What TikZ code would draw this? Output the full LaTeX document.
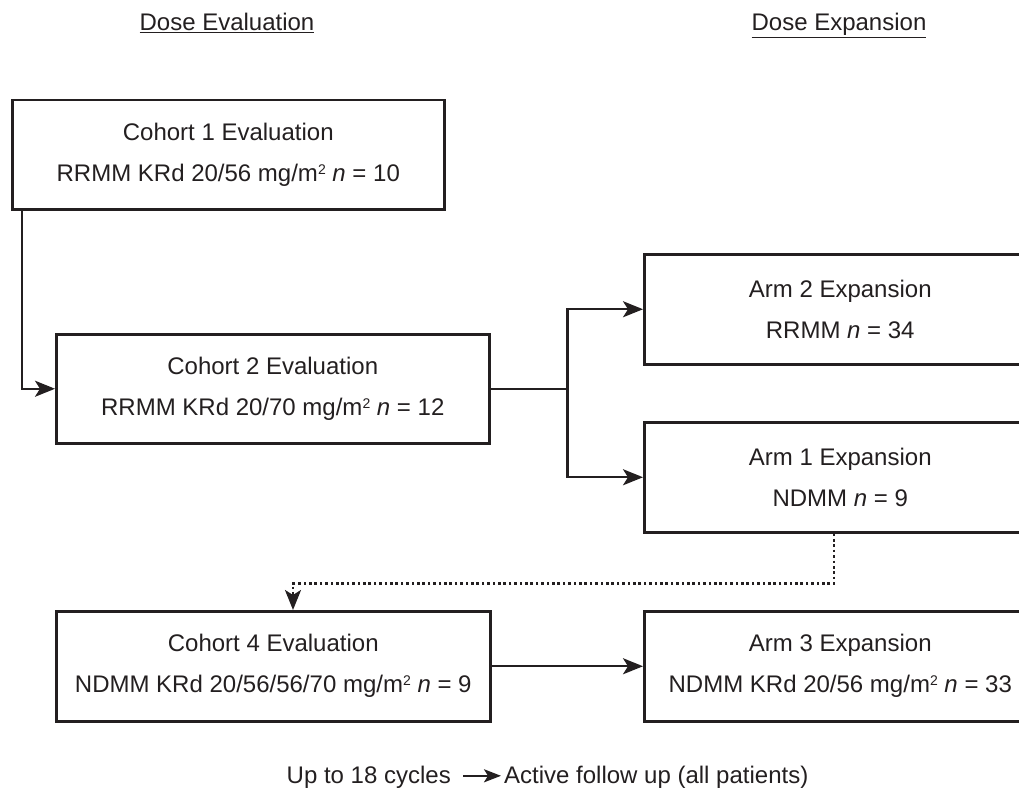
\documentclass[tikz,border=0pt]{standalone}
\usepackage{fontspec}
\setmainfont{Liberation Sans}
\usetikzlibrary{arrows.meta}
\definecolor{ink}{RGB}{35,31,32}
\newcommand{\sqd}{\raisebox{0.55ex}{\fontsize{14}{14}\selectfont 2}}
\begin{document}
\begin{tikzpicture}[x=1pt,y=-1pt,
  every node/.style={text=ink, font=\fontsize{24}{41}\selectfont},
  box/.style={draw=ink, line width=2.5pt, align=center, inner sep=0pt, anchor=north west},
  conn/.style={line width=2.3pt, draw=ink, -{Stealth[length=20pt,width=16pt,inset=5pt]}},
  plain/.style={line width=2.3pt, draw=ink},
  dconn/.style={line width=2.6pt, draw=ink, dash pattern=on 2.6pt off 2.8pt, -{Stealth[length=20pt,width=16pt,inset=5pt]}},
  hdr/.style={anchor=base, inner sep=0pt},
  ]
\useasboundingbox (0,0) rectangle (1019,789);
\clip (0,0) rectangle (1019,789);

% headers
\node[hdr] (h1) at (227,31) {\underline{Dose Evaluation}};
\node[hdr] (h2) at (839,31) {\underline{Dose Expansion}};

% boxes
\node[box, minimum width=432pt, minimum height=109pt] (c1) at (11,99)
  {Cohort 1 Evaluation\\RRMM KRd 20/56 mg/m\sqd{} \textit{n} = 10};
\node[box, minimum width=433pt, minimum height=109pt] (c2) at (55,333)
  {Cohort 2 Evaluation\\RRMM KRd 20/70 mg/m\sqd{} \textit{n} = 12};
\node[box, minimum width=392pt, minimum height=110pt] (a2) at (643,253)
  {Arm 2 Expansion\\RRMM \textit{n} = 34};
\node[box, minimum width=392pt, minimum height=110pt] (a1) at (643,421)
  {Arm 1 Expansion\\NDMM \textit{n} = 9};
\node[box, minimum width=434pt, minimum height=110pt] (c4) at (55,610)
  {Cohort 4 Evaluation\\NDMM KRd 20/56/56/70 mg/m\sqd{} \textit{n} = 9};
\node[box, minimum width=392pt, minimum height=110pt] (a3) at (643,610)
  {Arm 3 Expansion\\NDMM KRd 20/56 mg/m\sqd{} \textit{n} = 33};

% connectors
\draw[conn] ([xshift=11pt]c1.south west) |- (c2.west);
\coordinate (j) at ([xshift=77pt]c2.east);
\draw[plain] (c2.east) -- (j);
\draw[conn] (j) |- (a2.west);
\draw[conn] (j) |- (a1.west);
\draw[dconn] ([xshift=191pt]a1.south west) -- ++(0,50) coordinate (d1) -| ([xshift=238pt]c4.north west);
\draw[conn] (c4.east) -- (a3.west);

% bottom legend
\node[anchor=base east, inner sep=0pt] (u1) at (451,783) {Up to 18 cycles};
\node[anchor=base west, inner sep=0pt] (u2) at (504,783) {Active follow up (all patients)};
\draw[conn, -{Stealth[length=17pt,width=13pt,inset=4pt]}] ([xshift=12pt,yshift=1pt]u1.east) -- ([xshift=-3pt,yshift=1pt]u2.west);
\end{tikzpicture}
\end{document}
